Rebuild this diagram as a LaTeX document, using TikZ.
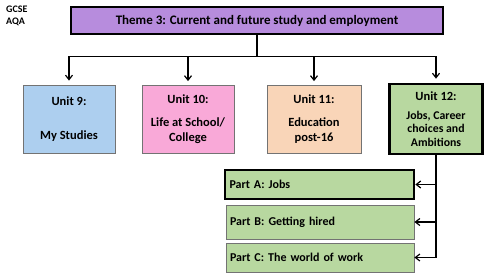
\documentclass[tikz,border=0pt]{standalone}
\usepackage{fontspec}
\setmainfont{Carlito}
\usetikzlibrary{arrows.meta}

\definecolor{themepurple}{HTML}{B78CDD}
\definecolor{unitblue}{HTML}{ADCFEF}
\definecolor{unitpink}{HTML}{F9A9D8}
\definecolor{unitpeach}{HTML}{F9D5B8}
\definecolor{unitgreen}{HTML}{B8D8A0}

\begin{document}
\begin{tikzpicture}[
  x=1pt, y=1pt,
  font=\bfseries,
  box/.style={draw=black!55, line width=0.8pt, align=center, inner sep=2pt},
  heavy/.style={draw=black, line width=2.6pt},
  unit/.style={box, minimum width=92pt, minimum height=68pt, font=\fontsize{12.5}{15}\selectfont\bfseries},
  part/.style={box, fill=unitgreen, minimum width=188pt, text width=180pt, inner sep=4pt, align=left,
               font=\fontsize{12}{14}\selectfont\bfseries},
  ar/.style={-{Straight Barb[length=4.5pt,width=7pt]}, line width=1.2pt},
]
\useasboundingbox (0,0) rectangle (500,-279);

%% ---------- header ----------
\node[anchor=north west, align=left, font=\fontsize{10}{12}\selectfont\bfseries, inner sep=0pt] (tag) at (6,-6) {GCSE\\AQA};
\node[box, heavy, fill=themepurple, minimum width=372pt, minimum height=27pt, font=\fontsize{13}{15}\selectfont\bfseries] (theme) at (257,-20.5)
  {Theme 3: Current and future study and employment};

%% ---------- units ----------
\node[unit, fill=unitblue] (u9) at (69,-119) {Unit 9:\\[19pt]My Studies};
\node[unit, fill=unitpink] (u10) at (188,-119.5) {Unit 10:\\[8pt]Life at School/\\College};
\node[unit, fill=unitpeach, minimum width=94pt] (u11) at (314,-119.5) {Unit 11:\\[8pt]Education\\post-16};
\node[unit, heavy, fill=unitgreen, minimum width=93pt, minimum height=70pt, font=\fontsize{11.8}{13.5}\selectfont\bfseries] (u12) at (436,-119)
  {{\fontsize{12.5}{15}\selectfont Unit 12:}\\[5pt]Jobs, Career\\choices and\\Ambitions};

\draw[line width=1.2pt] (theme.south) -- ++(0,-21) coordinate (bus);
\draw[line width=1.2pt] (u9.north |- bus) -- (u12.north |- bus);
\foreach \u in {u9,u10,u11,u12}{\draw[ar, shorten >=4pt] (\u.north |- bus) -- (\u.north);}

%% ---------- parts of unit 12 ----------
\node[part, heavy, minimum width=189pt, minimum height=29pt] (pA) at (319.5,-184.5) {Part A: Jobs};
\node[part, minimum height=34pt] (pB) at (320,-222) {Part B: Getting hired};
\node[part, minimum height=29pt] (pC) at (320,-257.5) {Part C: The world of work};

\draw[line width=1.2pt] (u12.south) -- (u12.south |- pC.east);
\foreach \p in {pA,pB,pC}{\draw[ar] (u12.south |- \p.east) -- (\p.east);}

\end{tikzpicture}
\end{document}
